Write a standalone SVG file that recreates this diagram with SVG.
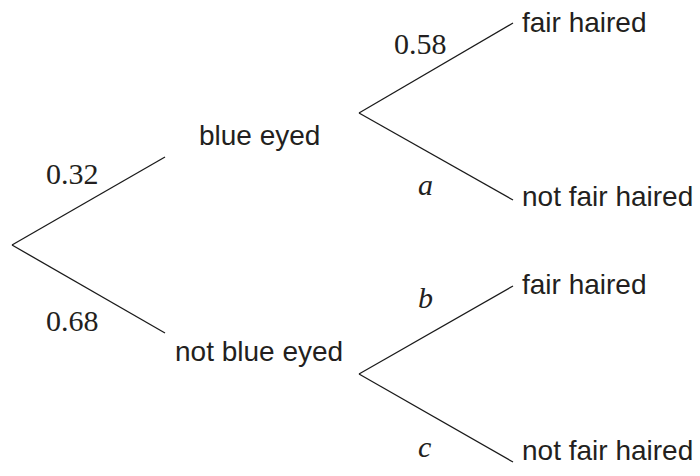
<svg xmlns="http://www.w3.org/2000/svg" width="700" height="476" viewBox="0 0 700 476">
<style>
.lbl{font-family:"Liberation Sans",Arial,sans-serif;font-size:28px;fill:#231f20}
.num{font-family:"Liberation Serif","Times New Roman",serif;font-size:30px;fill:#231f20}
.var{font-family:"Liberation Serif","Times New Roman",serif;font-size:30px;font-style:italic;fill:#231f20}
.br{stroke:#1a1a1a;stroke-width:1.3;fill:none}
</style>
<rect width="700" height="476" fill="#ffffff"/>
<g id="connectors">
<line class="br" x1="12" y1="245" x2="165" y2="157"/>
<line class="br" x1="12" y1="245" x2="165" y2="333"/>
<line class="br" x1="359" y1="113" x2="513" y2="23"/>
<line class="br" x1="359" y1="113" x2="513" y2="200"/>
<line class="br" x1="359" y1="374" x2="513" y2="286"/>
<line class="br" x1="359" y1="374" x2="513" y2="462"/>
<text class="num" x="46" y="184">0.32</text>
<text class="num" x="46" y="331">0.68</text>
<text class="num" x="394" y="54">0.58</text>
<text class="var" x="418" y="195">a</text>
<text class="var" x="418" y="308">b</text>
<text class="var" x="418" y="457">c</text>
</g>
<g id="blue-eyed"><text class="lbl" x="199" y="145">blue eyed</text></g>
<g id="not-blue-eyed"><text class="lbl" x="175" y="361">not blue eyed</text></g>
<g id="fair-haired-1"><text class="lbl" x="522" y="32">fair haired</text></g>
<g id="not-fair-haired-1"><text class="lbl" x="522" y="206">not fair haired</text></g>
<g id="fair-haired-2"><text class="lbl" x="522" y="294">fair haired</text></g>
<g id="not-fair-haired-2"><text class="lbl" x="522" y="460">not fair haired</text></g>
</svg>
